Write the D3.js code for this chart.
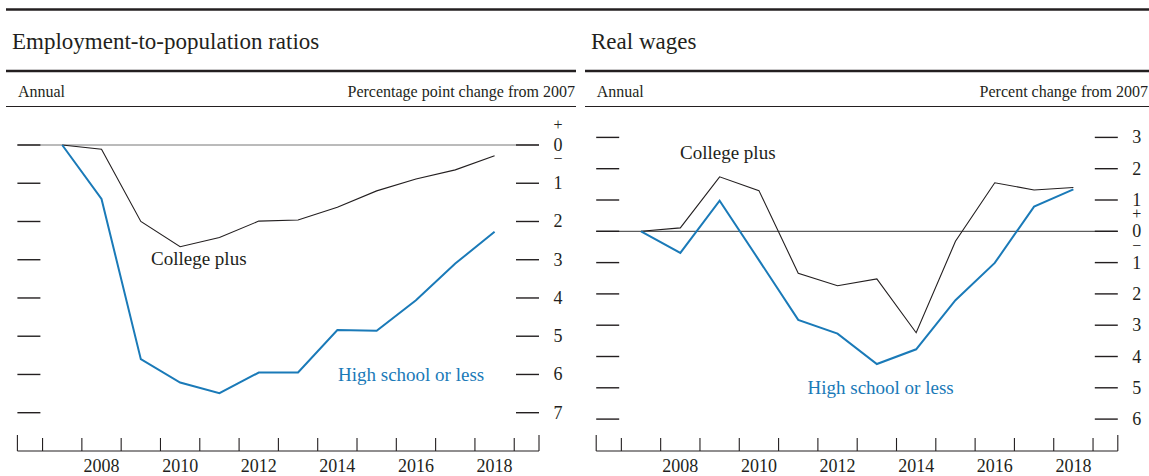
<!DOCTYPE html>
<html>
<head>
<meta charset="utf-8">
<script src="https://cdn.jsdelivr.net/npm/d3@7"></script>
<style>
  body { margin: 0; background: #fff; }
  svg { display: block; font-family: "Liberation Serif", "Times New Roman", serif; }
</style>
</head>
<body>
<div id="chart"></div>
<script>
// Annual data, change from 2007
const years = [2007, 2008, 2009, 2010, 2011, 2012, 2013, 2014, 2015, 2016, 2017, 2018];
const empCollege = [0, -0.11, -2.0, -2.66, -2.42, -1.99, -1.96, -1.63, -1.2, -0.89, -0.65, -0.28];
const empHighSchool = [0, -1.41, -5.6, -6.21, -6.49, -5.95, -5.95, -4.84, -4.86, -4.06, -3.1, -2.27];
const wageCollege = [0, 0.11, 1.74, 1.3, -1.34, -1.74, -1.52, -3.24, -0.32, 1.55, 1.32, 1.4];
const wageHighSchool = [0, -0.69, 0.98, -0.92, -2.83, -3.27, -4.24, -3.77, -2.2, -1.01, 0.79, 1.34];

const yearTicks = [2007, 2008, 2009, 2010, 2011, 2012, 2013, 2014, 2015, 2016, 2017, 2018, 2019];
const yearLabels = [2008, 2010, 2012, 2014, 2016, 2018];
const empTicks = [0, -1, -2, -3, -4, -5, -6, -7];
const wageTicks = [3, 2, 1, 0, -1, -2, -3, -4, -5, -6];

const width = 1149, height = 476;
const blue = "#1a7ab8";
const ink = "#231f20";

const svg = d3.select("#chart").append("svg")
    .attr("width", width)
    .attr("height", height);

// top rule across both panels
svg.append("line")
    .attr("x1", 6).attr("x2", width).attr("y1", 9.5).attr("y2", 9.5)
    .attr("stroke", ink).attr("stroke-width", 2.5);

const panels = [
    {
        left: 17.4, right: 539, hx1: 6, hx2: 576,
        title: "Employment-to-population ratios",
        unit: "Percentage point change from 2007",
        yDomain: [0, -7], yRange: [145, 412.7], ticks: empTicks,
        plusDy: -20, minusDy: 14, zeroColor: "#777",
        black: empCollege, blueVals: empHighSchool,
        blackLabel: { x: 151, y: 265 }, blueLabel: { x: 338, y: 380.5 }
    },
    {
        left: 596.2, right: 1117.8, hx1: 585, hx2: 1149,
        title: "Real wages",
        unit: "Percent change from 2007",
        yDomain: [0, -6], yRange: [231.3, 419.1], ticks: wageTicks,
        plusDy: -17, minusDy: 15, zeroColor: "#333",
        black: wageCollege, blueVals: wageHighSchool,
        blackLabel: { x: 680, y: 159 }, blueLabel: { x: 807.5, y: 393.5 }
    }
];

panels.forEach(p => {
    let g = svg.append("g");

    // header
    g.append("text")
        .attr("x", p.hx1 + 6).attr("y", 49)
        .style("font-size", "23px").attr("fill", ink)
        .text(p.title);
    g.append("line")
        .attr("x1", p.hx1).attr("x2", p.hx2).attr("y1", 71).attr("y2", 71)
        .attr("stroke", ink).attr("stroke-width", 2.5);
    g.append("text")
        .attr("x", p.left + 0.5).attr("y", 97)
        .style("font-size", "16px").attr("fill", ink)
        .text("Annual");
    g.append("text")
        .attr("x", p.hx2 - 1).attr("y", 97)
        .attr("text-anchor", "end")
        .style("font-size", "16px").attr("fill", ink)
        .text(p.unit);
    g.append("line")
        .attr("x1", p.hx1).attr("x2", p.hx2).attr("y1", 106.5).attr("y2", 106.5)
        .attr("stroke", ink).attr("stroke-width", 1);

    let x = d3.scaleLinear().domain([2006.36, 2019.63]).range([p.left, p.right]);
    let y = d3.scaleLinear().domain(p.yDomain).range(p.yRange);

    // zero line
    g.append("line")
        .attr("x1", p.left).attr("x2", p.right)
        .attr("y1", y(0)).attr("y2", y(0))
        .attr("stroke", p.zeroColor).attr("stroke-width", 1);

    // value ticks on both sides
    g.selectAll(".ltick").data(p.ticks).enter().append("line")
        .attr("x1", p.left).attr("x2", p.left + 23)
        .attr("y1", d => y(d)).attr("y2", d => y(d))
        .attr("stroke", ink).attr("stroke-width", 1.4);
    g.selectAll(".rtick").data(p.ticks).enter().append("line")
        .attr("x1", p.right - 23).attr("x2", p.right)
        .attr("y1", d => y(d)).attr("y2", d => y(d))
        .attr("stroke", ink).attr("stroke-width", 1.4);
    g.selectAll(".vlabel").data(p.ticks).enter().append("text")
        .attr("x", p.right + 19).attr("y", d => y(d) + 6)
        .attr("text-anchor", "middle")
        .style("font-size", "18px").attr("fill", ink)
        .text(d => Math.abs(d));
    // sign markers around zero
    g.append("text")
        .attr("x", p.right + 19).attr("y", y(0) + p.plusDy + 4.5)
        .attr("text-anchor", "middle")
        .style("font-size", "16px").attr("fill", ink)
        .text("+");
    g.append("text")
        .attr("x", p.right + 19).attr("y", y(0) + p.minusDy + 4.5)
        .attr("text-anchor", "middle")
        .style("font-size", "16px").attr("fill", ink)
        .text("\u2212");

    // bottom axis
    g.append("line")
        .attr("x1", p.left).attr("x2", p.right).attr("y1", 451).attr("y2", 451)
        .attr("stroke", ink).attr("stroke-width", 1.2);
    g.selectAll(".ytick").data(yearTicks).enter().append("line")
        .attr("x1", d => x(d)).attr("x2", d => x(d))
        .attr("y1", 438).attr("y2", 451)
        .attr("stroke", ink).attr("stroke-width", 1.1);
    g.selectAll(".endtick").data(x.domain()).enter().append("line")
        .attr("x1", d => x(d)).attr("x2", d => x(d))
        .attr("y1", 435).attr("y2", 451)
        .attr("stroke", ink).attr("stroke-width", 1.1);
    g.selectAll(".ylabel").data(yearLabels).enter().append("text")
        .attr("x", d => x(d + 0.5)).attr("y", 472)
        .attr("text-anchor", "middle")
        .style("font-size", "18px").attr("fill", ink)
        .text(d => d);

    // series
    let line = d3.line()
        .x((d, i) => x(years[i] + 0.5))
        .y(d => y(d));
    g.append("path")
        .datum(p.black)
        .attr("d", line)
        .attr("fill", "none").attr("stroke", ink).attr("stroke-width", 1.1);
    g.append("path")
        .datum(p.blueVals)
        .attr("d", line)
        .attr("fill", "none").attr("stroke", blue).attr("stroke-width", 2);

    g.append("text")
        .attr("x", p.blackLabel.x).attr("y", p.blackLabel.y)
        .style("font-size", "19px").attr("fill", ink)
        .text("College plus");
    g.append("text")
        .attr("x", p.blueLabel.x).attr("y", p.blueLabel.y)
        .style("font-size", "19px").attr("fill", blue)
        .text("High school or less");
});
</script>
</body>
</html>
